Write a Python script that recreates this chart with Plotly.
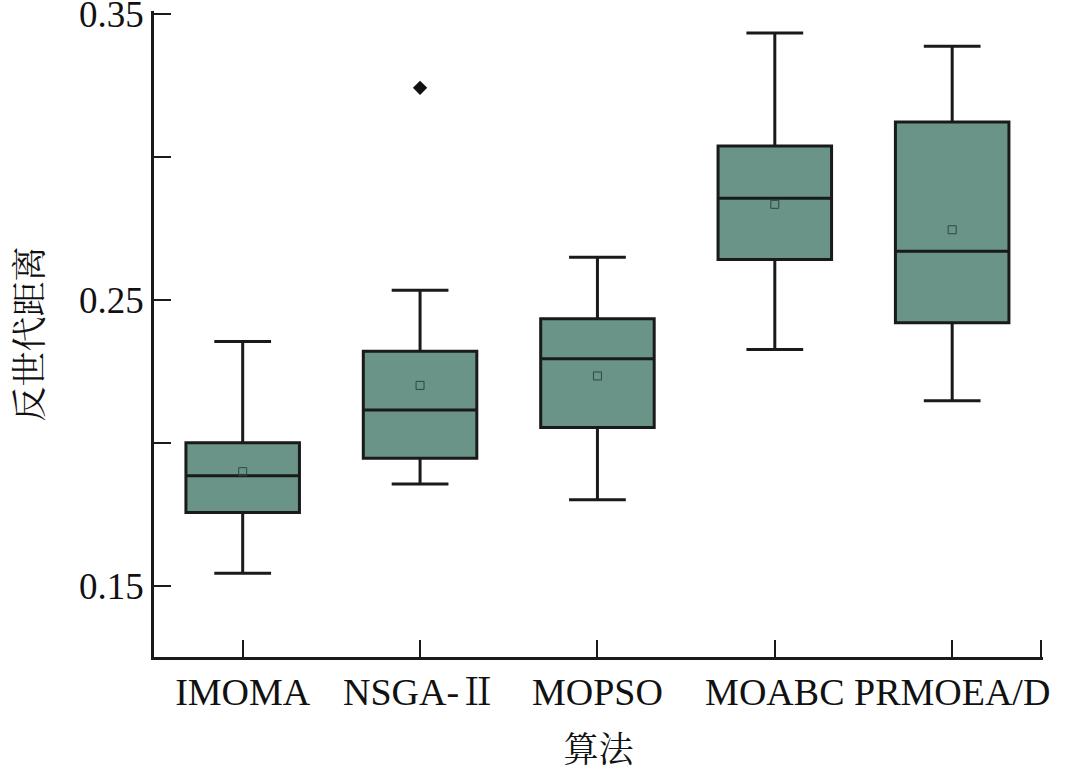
import plotly.graph_objects as go

# 算法名称
algorithms = ["IMOMA", "NSGA-Ⅱ", "MOPSO", "MOABC", "PRMOEA/D"]

# 反世代距离 box statistics
lower_whisker = [0.1543, 0.1856, 0.1801, 0.2327, 0.2147]
q1 = [0.1756, 0.1946, 0.2054, 0.2642, 0.2420]
median = [0.1885, 0.2115, 0.2294, 0.2856, 0.2671]
q3 = [0.2000, 0.2321, 0.2434, 0.3039, 0.3123]
upper_whisker = [0.2355, 0.2534, 0.2650, 0.3435, 0.3389]
mean = [0.1899, 0.2201, 0.2234, 0.2835, 0.2746]

# outliers (algorithm index, value)
outlier_x = [1]
outlier_y = [0.3243]

ytick_vals = [0.15, 0.20, 0.25, 0.30, 0.35]
ytick_text = ["0.15", "", "0.25", "", "0.35"]

pos = list(range(len(algorithms)))

fig = go.Figure()

fig.add_trace(go.Box(
    x=pos,
    q1=q1, median=median, q3=q3,
    lowerfence=lower_whisker, upperfence=upper_whisker,
    width=0.64,
    whiskerwidth=0.5,
    fillcolor="#699487",
    line=dict(color="#1a1a1a", width=3),
    boxpoints=False,
    hoverinfo="skip",
    showlegend=False,
))

fig.add_trace(go.Scatter(
    x=pos, y=mean,
    mode="markers",
    marker=dict(symbol="square-open", size=8, color="#2b4a42", line=dict(width=1)),
    hoverinfo="skip",
    showlegend=False,
))

fig.add_trace(go.Scatter(
    x=outlier_x, y=outlier_y,
    mode="markers",
    marker=dict(symbol="diamond", size=11, color="#111111"),
    hoverinfo="skip",
    showlegend=False,
))

font_main = "Liberation Serif, Times New Roman, Noto Serif CJK SC, Noto Sans CJK SC"

fig.update_xaxes(
    range=[-0.5, 4.512],
    tickvals=pos + [4.5],
    ticktext=algorithms + [""],
    ticks="inside", ticklen=17, tickwidth=2, tickcolor="#1a1a1a",
    showline=True, linecolor="#1a1a1a", linewidth=2.5,
    showgrid=False, zeroline=False,
    tickfont=dict(family=font_main, size=38, color="#111111"),
    ticklabeloverflow="allow",
    title=dict(text="算法", font=dict(family=font_main, size=35, color="#111111"), standoff=26),
    automargin=False,
)

fig.update_yaxes(
    range=[0.125, 0.3512],
    tickvals=ytick_vals,
    ticktext=ytick_text,
    ticks="inside", ticklen=17, tickwidth=2, tickcolor="#1a1a1a",
    showline=True, linecolor="#1a1a1a", linewidth=2.5,
    showgrid=False, zeroline=False,
    tickfont=dict(family=font_main, size=37, color="#111111"),
    ticklabeloverflow="allow",
    title=dict(text="反世代距离", font=dict(family=font_main, size=35, color="#111111"), standoff=26),
    automargin=False,
)

fig.update_layout(
    width=1080, height=778,
    margin=dict(l=154, r=37, t=11, b=121, autoexpand=False),
    plot_bgcolor="white", paper_bgcolor="white",
    hovermode=False,
)

# drop the default page margin so the figure sits at the window's corner
fig.write_html(
    "out.html",
    config={"displayModeBar": False},
    post_script="document.body.style.margin='0';",
)
